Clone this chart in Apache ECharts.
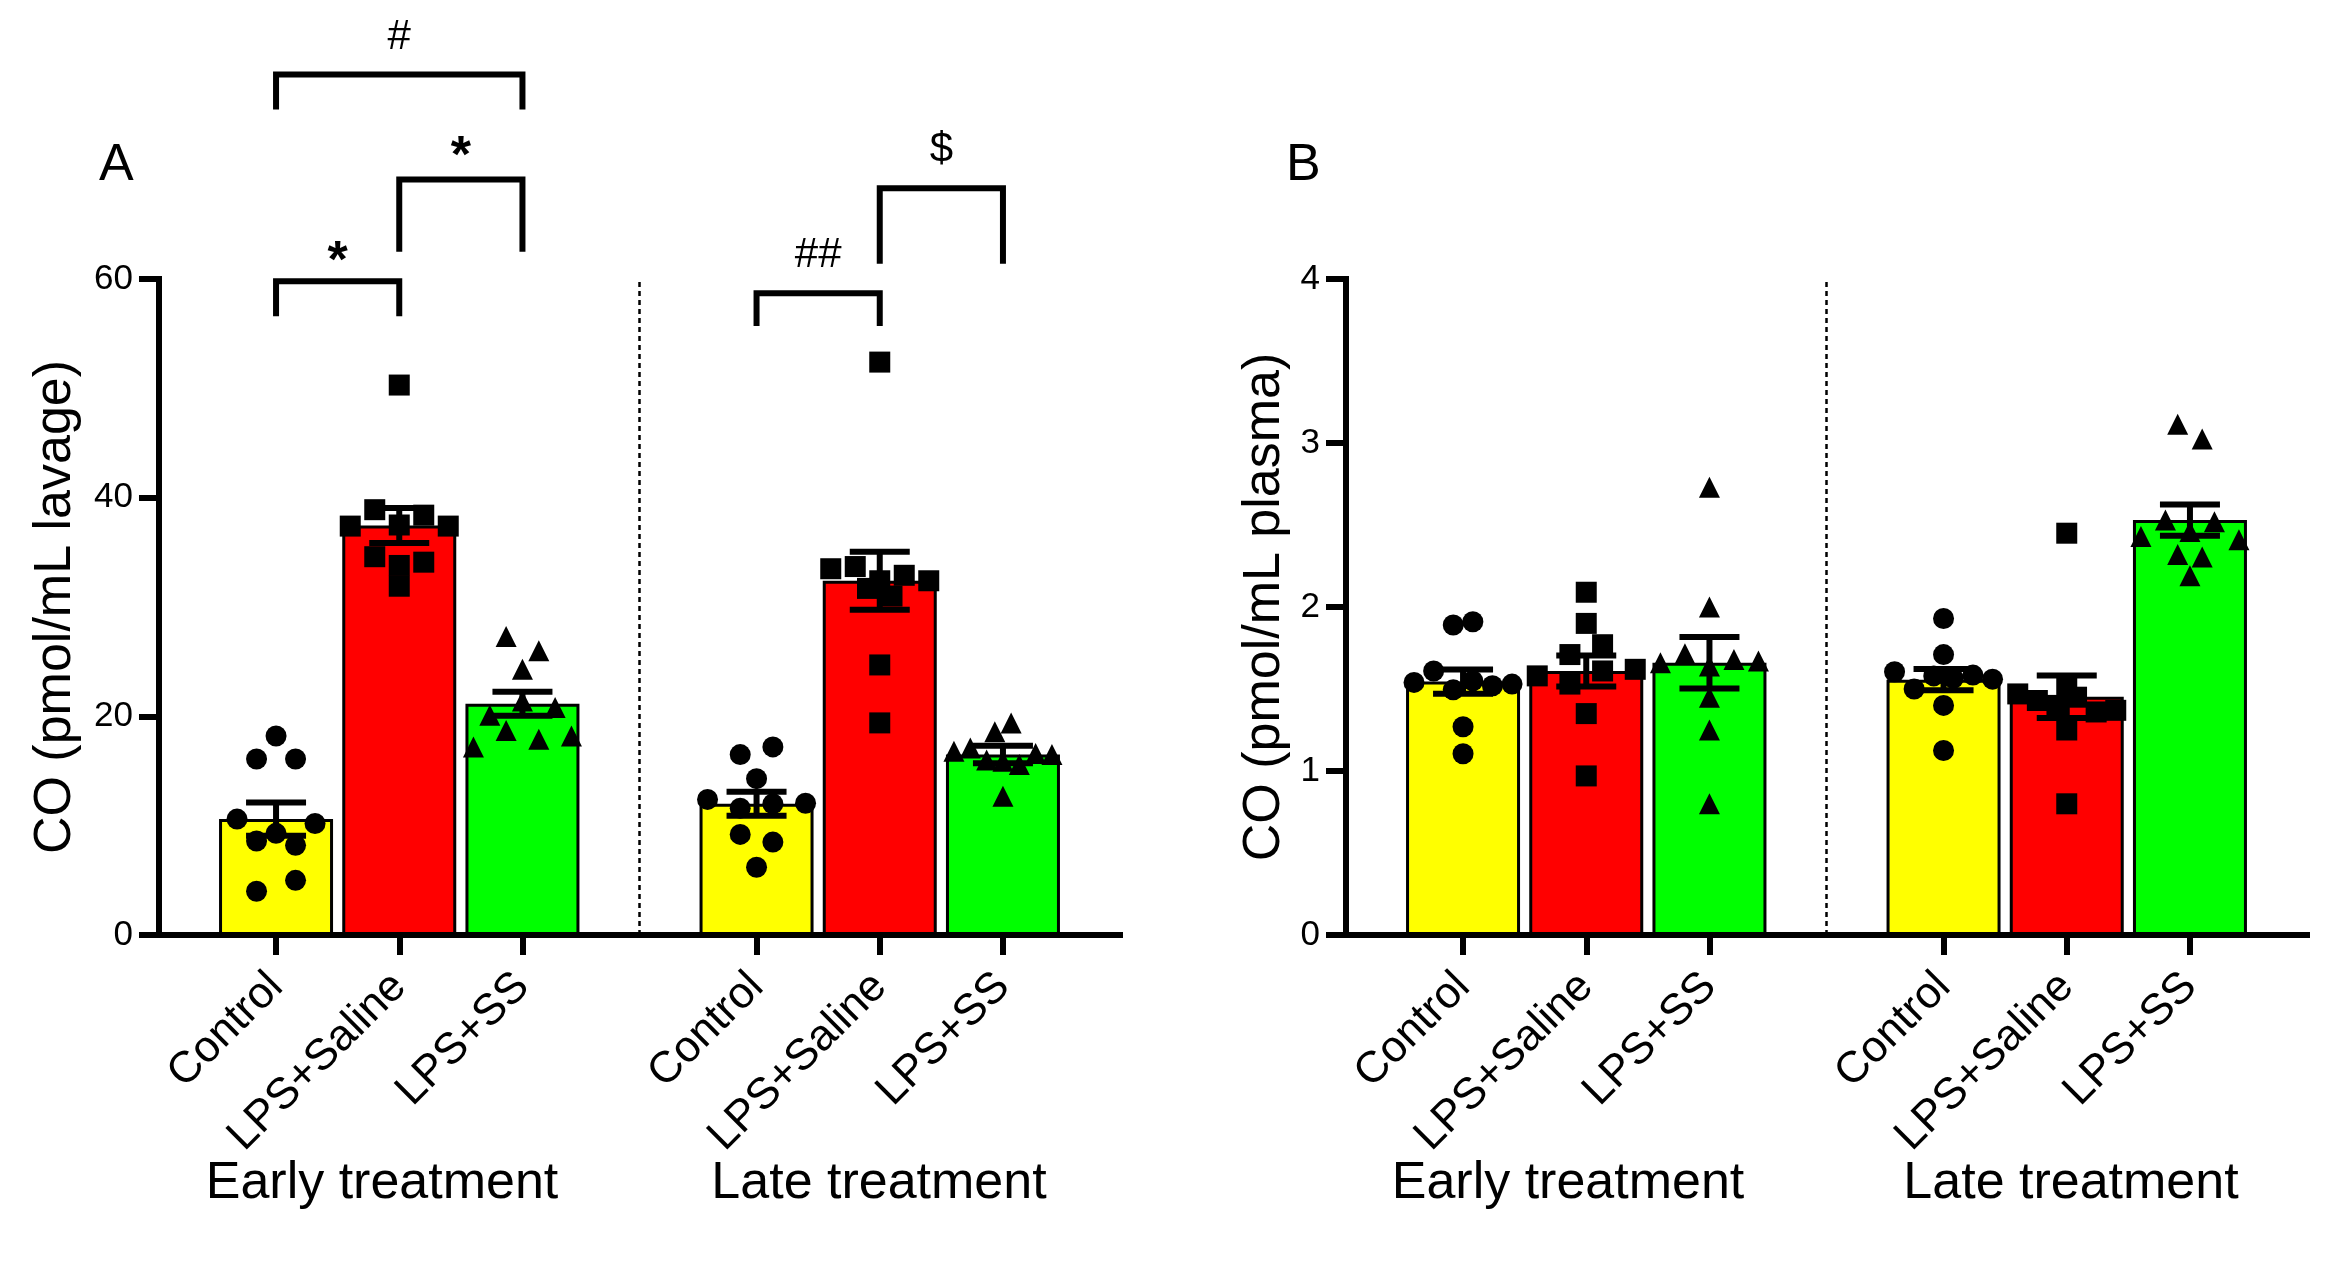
<!DOCTYPE html>
<html>
<head>
<meta charset="utf-8">
<script src="https://cdn.jsdelivr.net/npm/echarts@6/dist/echarts.min.js"></script>
<style>
html,body{margin:0;padding:0;background:#fff;}
#chart{width:2346px;height:1282px;}
</style>
</head>
<body>
<div id="chart"></div>
<script>
// ---------------- DATA ----------------
const categories = ['Control', 'LPS+Saline', 'LPS+SS'];
const treatments = ['Early treatment', 'Late treatment'];
const panelLetters = ['A', 'B'];
const titleA = 'CO (pmol/mL lavage)';
const titleB = 'CO (pmol/mL plasma)';
const yTicksA = [0, 20, 40, 60];
const yTicksB = [0, 1, 2, 3, 4];

// Panel A: lavage (mean, SEM per group: early Control, Saline, SS, late Control, Saline, SS)
const meanA = [10.6, 37.45, 21.15, 12.0, 32.4, 16.5];
const semA  = [1.52, 1.6, 1.1, 1.1, 2.65, 0.8];
const lavageEarlyControl = [18.2, 16.1, 16.1, 10.6, 9.3, 10.2, 8.6, 8.2, 4.0, 5.0];
const lavageEarlySaline  = [50.3, 37.4, 38.9, 37.5, 38.4, 37.4, 34.6, 33.8, 34.1, 31.9];
const lavageEarlySS      = [27.3, 26.0, 24.3, 20.1, 21.4, 20.8, 17.2, 18.7, 17.9, 18.2];
const lavageLateControl  = [16.5, 17.2, 14.3, 12.4, 11.6, 12.0, 12.05, 9.2, 8.5, 6.2];
const lavageLateSaline   = [52.4, 33.5, 33.7, 32.4, 32.9, 32.4, 31.7, 31.0, 24.7, 19.4];
const lavageLateSS       = [18.6, 19.4, 16.8, 17.1, 16.0, 15.9, 15.6, 16.6, 16.5, 12.7];

// Panel B: plasma
const meanB = [1.545, 1.61, 1.66, 1.557, 1.453, 2.53];
const semB  = [0.074, 0.095, 0.157, 0.065, 0.13, 0.095];
const plasmaEarlyControl = [1.89, 1.91, 1.54, 1.61, 1.495, 1.55, 1.52, 1.53, 1.27, 1.105];
const plasmaEarlySaline  = [2.09, 1.90, 1.71, 1.77, 1.58, 1.53, 1.61, 1.62, 1.35, 0.97];
const plasmaEarlySS      = [2.73, 2.00, 1.66, 1.715, 1.64, 1.68, 1.67, 1.45, 1.25, 0.80];
const plasmaLateControl  = [1.93, 1.71, 1.605, 1.50, 1.58, 1.565, 1.585, 1.56, 1.40, 1.125];
const plasmaLateSaline   = [2.45, 1.47, 1.43, 1.40, 1.52, 1.45, 1.36, 1.37, 1.25, 0.80];
const plasmaLateSS       = [3.115, 3.025, 2.43, 2.53, 2.46, 2.52, 2.41, 2.32, 2.305, 2.19];

// Significance marks (panel A): group pairs and marks
const sigPairs = [[0, 2], [1, 2], [0, 1], [3, 4], [4, 5]];
const sigMarks = ['#', '*', '*', '##', '$'];

// ---------------- LAYOUT / STYLE ----------------
const FONT = '"Liberation Sans", Arial, Helvetica, sans-serif';
const COLORS = ['#ffff00', '#ff0000', '#00ff00'];
const SYMBOLS = ['circle', 'rect', 'triangle'];
const GROUP_X = [1, 2, 3, 4.9, 5.9, 6.9];   // x positions of the six bars
const DIVIDER_X = 3.95;
const X_MIN = 0.05, X_MAX = 7.85;
const GRID = { top: 279, bottom: 347, width: 961, left: [159, 1346] };
// bracket geometry in panel-A data units: [top, foot, markY]
const bracketLayout = [[78.7, 75.5, 82.1], [69.1, 62.5, 72.3], [59.8, 56.6, 62.7], [58.7, 55.7, 62.2], [68.3, 61.4, 71.8]];
const treatmentLabelX = [[382, 879], [1568, 2071]];
const TREATMENT_LABEL_Y = 1184;
const LINE_W = 6;

const panels = [
  { mean: meanA, sem: semA, max: 60, interval: 20, title: titleA, nameGap: 77,
    points: [lavageEarlyControl, lavageEarlySaline, lavageEarlySS, lavageLateControl, lavageLateSaline, lavageLateSS] },
  { mean: meanB, sem: semB, max: 4, interval: 1, title: titleB, nameGap: 55,
    points: [plasmaEarlyControl, plasmaEarlySaline, plasmaEarlySS, plasmaLateControl, plasmaLateSaline, plasmaLateSS] }
];

const chart = echarts.init(document.getElementById('chart'));

function catName(v) {
  const i = GROUP_X.findIndex(p => Math.abs(p - v) < 1e-6);
  return i < 0 ? '' : categories[i % 3];
}

const grids = [], xAxes = [], yAxes = [], series = [];
panels.forEach((p, gi) => {
  grids.push({ left: GRID.left[gi], top: GRID.top, width: GRID.width, bottom: GRID.bottom, outerBoundsMode: 'none' });
  xAxes.push({
    type: 'value', gridIndex: gi, min: X_MIN, max: X_MAX,
    axisLine: { show: true, onZero: false, lineStyle: { color: '#000', width: LINE_W, cap: 'square' } },
    axisTick: { show: true, customValues: GROUP_X, length: 20, lineStyle: { color: '#000', width: LINE_W } },
    axisLabel: { show: true, customValues: GROUP_X, rotate: 45, margin: 45, fontSize: 44, fontFamily: FONT, color: '#000', formatter: catName },
    splitLine: { show: false }
  });
  yAxes.push({
    type: 'value', gridIndex: gi, min: 0, max: p.max, interval: p.interval,
    name: p.title, nameLocation: 'middle', nameRotate: 90, nameGap: p.nameGap,
    nameTextStyle: { fontSize: 52, fontFamily: FONT, color: '#000' },
    axisLine: { show: true, lineStyle: { color: '#000', width: LINE_W, cap: 'square' } },
    axisTick: { show: true, length: 20, lineStyle: { color: '#000', width: LINE_W } },
    axisLabel: { fontSize: 35, fontFamily: FONT, color: '#000', margin: 26 },
    splitLine: { show: false }
  });
  series.push({
    id: 'bar' + gi, type: 'bar', xAxisIndex: gi, yAxisIndex: gi, barWidth: 114, z: 2,
    itemStyle: { borderColor: '#000', borderWidth: 3 },
    data: p.mean.map((m, k) => ({ value: [GROUP_X[k], m], itemStyle: { color: COLORS[k % 3] } })),
    markLine: {
      silent: true, symbol: ['none', 'none'], label: { show: false },
      lineStyle: { color: '#000', type: [5, 4], width: 2.5 },
      data: [{ xAxis: DIVIDER_X }]
    }
  });
  SYMBOLS.forEach((s, si) => {
    series.push({ id: 'pts' + gi + '_' + si, type: 'scatter', xAxisIndex: gi, yAxisIndex: gi,
      symbol: s, symbolSize: 21, itemStyle: { color: '#000', opacity: 1 }, z: 3, data: [] });
  });
  series.push({
    id: 'err' + gi, type: 'custom', xAxisIndex: gi, yAxisIndex: gi, z: 4,
    encode: { x: 0, y: 1 },
    data: p.mean.map((m, k) => [GROUP_X[k], m, p.sem[k]]),
    renderItem: function (params, api) {
      const x = api.value(0), m = api.value(1), s = api.value(2);
      const t = api.coord([x, m + s]), b = api.coord([x, m - s]);
      const st = { stroke: '#000', lineWidth: LINE_W };
      const hw = 30;
      return { type: 'group', children: [
        { type: 'line', shape: { x1: t[0], y1: t[1], x2: b[0], y2: b[1] }, style: st },
        { type: 'line', shape: { x1: t[0] - hw, y1: t[1], x2: t[0] + hw, y2: t[1] }, style: st },
        { type: 'line', shape: { x1: b[0] - hw, y1: b[1], x2: b[0] + hw, y2: b[1] }, style: st }
      ] };
    }
  });
});

// significance brackets (panel A)
series.push({
  id: 'brackets', type: 'custom', xAxisIndex: 0, yAxisIndex: 0, z: 5, clip: false,
  encode: { x: [0, 1], y: [2, 3] },
  data: sigPairs.map((pr, i) => [GROUP_X[pr[0]], GROUP_X[pr[1]], bracketLayout[i][0], bracketLayout[i][1], bracketLayout[i][2]]),
  renderItem: function (params, api) {
    const x1 = api.value(0), x2 = api.value(1), yt = api.value(2), yf = api.value(3), ym = api.value(4);
    const a = api.coord([x1, yf]), b = api.coord([x1, yt]), c = api.coord([x2, yt]), d = api.coord([x2, yf]);
    const mk = sigMarks[params.dataIndex];
    const mp = api.coord([(x1 + x2) / 2, ym]);
    const star = mk.indexOf('*') >= 0;
    return { type: 'group', children: [
      { type: 'polyline', shape: { points: [a, b, c, d] },
        style: { stroke: '#000', lineWidth: LINE_W, fill: null, lineJoin: 'miter', lineCap: 'butt' } },
      { type: 'text', x: mp[0], y: mp[1] + (star ? 13 : 0),
        style: { text: mk, fill: '#000', font: (star ? 'bold 52px ' : '42px ') + FONT, align: 'center', verticalAlign: 'middle' } }
    ] };
  }
});

const graphics = [];
panelLetters.forEach((l, gi) => {
  graphics.push({ type: 'text', x: GRID.left[gi] - 60, y: 166,
    style: { text: l, fill: '#000', font: '52px ' + FONT, align: 'left', verticalAlign: 'middle' } });
  treatments.forEach((t, ti) => {
    graphics.push({ type: 'text', x: treatmentLabelX[gi][ti], y: TREATMENT_LABEL_Y,
      style: { text: t, fill: '#000', font: '52px ' + FONT, align: 'center', verticalAlign: 'middle' } });
  });
});

chart.setOption({
  animation: false,
  backgroundColor: '#fff',
  textStyle: { fontFamily: FONT, color: '#000' },
  grid: grids, xAxis: xAxes, yAxis: yAxes, series: series, graphic: graphics
});

// ---------- column-scatter layout (beeswarm rows) ----------
const BIN_PX = 20, MAX_SPACING = 39, MAX_WIDTH = 98;
function swarmOffsets(vals, pxPerY) {
  let rem = vals.map((v, i) => i).sort((a, b) => vals[b] - vals[a]);
  const rows = [];
  while (rem.length) {
    let best = { s: 0, n: 1 };
    for (let s = 0; s < rem.length; s++) {
      let e = s;
      while (e < rem.length && (vals[rem[s]] - vals[rem[e]]) * pxPerY < BIN_PX) e++;
      if (e - s > best.n) best = { s: s, n: e - s };
    }
    rows.push(rem.slice(best.s, best.s + best.n));
    rem.splice(best.s, best.n);
  }
  const maxN = Math.max.apply(null, rows.map(r => r.length));
  const sp = maxN > 1 ? Math.min(MAX_SPACING, MAX_WIDTH / (maxN - 1)) : 0;
  const off = vals.map(() => 0);
  rows.forEach(r => {
    r.sort((a, b) => a - b);
    r.forEach((idx, k) => { off[idx] = (k - (r.length - 1) / 2) * sp; });
  });
  return off;
}

const update = [];
panels.forEach((p, gi) => {
  const p0 = chart.convertToPixel({ seriesId: 'bar' + gi }, [0, 0]);
  const p1 = chart.convertToPixel({ seriesId: 'bar' + gi }, [1, 1]);
  const pxX = p1[0] - p0[0], pxY = p0[1] - p1[1];
  const bySym = [[], [], []];
  p.points.forEach((vals, k) => {
    const off = swarmOffsets(vals, pxY);
    vals.forEach((v, i) => bySym[k % 3].push([GROUP_X[k] + off[i] / pxX, v]));
  });
  bySym.forEach((d, si) => update.push({ id: 'pts' + gi + '_' + si, data: d }));
});
chart.setOption({ series: update });
</script>
</body>
</html>
